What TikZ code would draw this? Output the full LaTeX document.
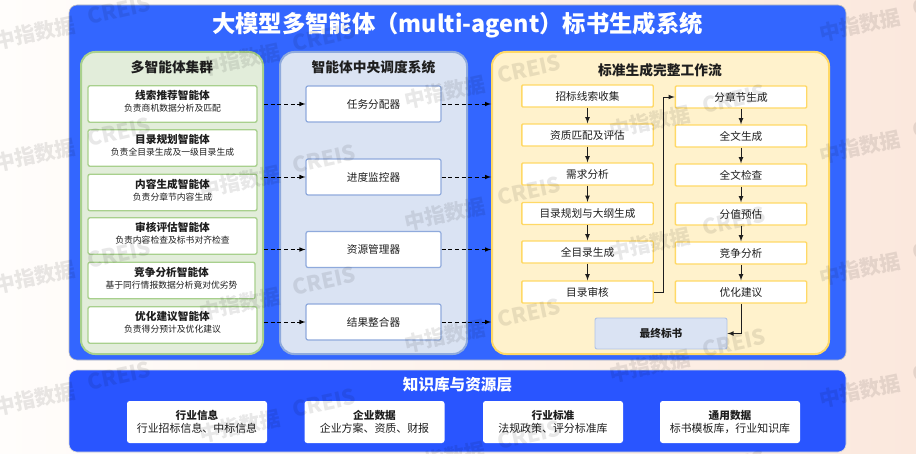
\documentclass[tikz,border=0pt]{standalone}
\usepackage{fontspec}
\setmainfont{Noto Sans CJK SC}
\usetikzlibrary{positioning}
\usetikzlibrary{arrows}
\definecolor{outerblue}{RGB}{51,102,255}
\definecolor{lowerblue}{RGB}{41,85,255}
\definecolor{greenfill}{RGB}{226,237,218}
\definecolor{greenline}{RGB}{168,208,141}
\definecolor{bluefill}{RGB}{218,227,243}
\definecolor{blueline}{RGB}{143,170,220}
\definecolor{yellowfill}{RGB}{255,242,204}
\definecolor{yellowline}{RGB}{255,217,102}
\definecolor{inktext}{RGB}{30,30,30}
\definecolor{pagestart}{RGB}{255,253,251}
\definecolor{pageend}{RGB}{251,232,221}
\newcommand{\boxlabel}[2]{{\fontsize{8}{9}\selectfont\bfseries #1}\\[-3pt]{\fontsize{6.6}{9}\selectfont #2\rule[-4pt]{0pt}{1pt}}}
\newcommand{\datalabel}[2]{{\fontsize{8}{10}\selectfont\bfseries #1}\\[-2.25pt]{\fontsize{8.2}{10}\selectfont #2}}
\tikzset{
	panel/.style={draw, line width=1.5pt, rounded corners=10.5pt, inner sep=0pt},
	agentbox/.style={draw=greenline, fill=white, line width=1pt, rounded corners=1.5pt, minimum width=126.75pt, minimum height=27.4pt, align=center, text=inktext, inner sep=0pt},
	unitbox/.style={draw=blueline, fill=white, line width=.9pt, rounded corners=1.5pt, minimum width=101.25pt, minimum height=27pt, text=inktext, font=\fontsize{8}{10}\selectfont, inner sep=0pt},
	flowbox/.style={draw=yellowline, fill=white, line width=1pt, rounded corners=.8pt, minimum width=98.5pt, minimum height=16.5pt, text=inktext, font=\fontsize{8}{10}\selectfont, inner sep=0pt},
	databox/.style={fill=white, rounded corners=2pt, minimum width=105pt, minimum height=31.5pt, align=center, text=inktext, inner sep=0pt},
	heading/.style={text=inktext, font=\fontsize{10.3}{12}\selectfont\bfseries, inner sep=0pt},
	dasharrow/.style={densely dashed, line width=.55pt, black, -latex},
	flowarrow/.style={line width=.6pt, inktext, -latex},
	wmark/.style={text=black, opacity=.09, rotate=12, inner sep=0pt}
}
\begin{document}
\begin{tikzpicture}[x=0.75pt,y=-0.75pt]
	% Page
	\useasboundingbox (0,0) rectangle (916,453);
	\shade[left color=pagestart, right color=pageend] (0,0) rectangle (916,453);

	% Blue layers
	\node[draw=black!25, fill=outerblue, rounded corners=6pt, minimum width=582.75pt, minimum height=266.25pt, inner sep=0pt, line width=.5pt] (upper) at (457.5,182.5) {};
	\node[draw=black!15, fill=lowerblue, rounded corners=6pt, minimum width=582.75pt, minimum height=61.5pt, inner sep=0pt, line width=.5pt] (lower) at (457.5,411) {};
	\node[text=white, font=\fontsize{17.5}{20}\selectfont\bfseries, inner sep=0pt] (title) at (457.5,25) {大模型多智能体（multi-agent）标书生成系统};
	\node[text=white, font=\fontsize{11.7}{14}\selectfont\bfseries, inner sep=0pt] (lowertitle) at (457.5,385) {知识库与资源层};

	% Three panels
	\node[panel, draw=greenline, fill=greenfill, minimum width=136.5pt, minimum height=226.5pt] (agents) at (172,203) {};
	\node[panel, draw=blueline, fill=bluefill, minimum width=140.25pt, minimum height=226.5pt] (central) at (373.5,203) {};
	\node[panel, draw=yellowline, fill=yellowfill, minimum width=252.75pt, minimum height=226.5pt] (flow) at (660.5,203) {};
	\node[heading] (agentstitle) at (172,67) {多智能体集群};
	\node[heading] (centraltitle) at (373.5,67) {智能体中央调度系统};
	\node[heading] (flowtitle) at (660,70) {标准生成完整工作流};

	% Agents
	\node[agentbox] (clue) at (172.5,104) {\boxlabel{线索推荐智能体}{负责商机数据分析及匹配}};
	\node[agentbox] (outline) at (172.5,148) {\boxlabel{目录规划智能体}{负责全目录生成及一级目录生成}};
	\node[agentbox] (content) at (172.5,192.5) {\boxlabel{内容生成智能体}{负责分章节内容生成}};
	\node[agentbox] (review) at (172.5,236) {\boxlabel{审核评估智能体}{负责内容检查及标书对齐检查}};
	\node[agentbox, minimum width=125.25pt] (rival) at (171.5,280.5) {\boxlabel{竞争分析智能体}{基于同行情报数据分析竟对优劣势}};
	\node[agentbox] (tuning) at (172.5,325) {\boxlabel{优化建议智能体}{负责得分预计及优化建议}};

	% Scheduler units
	\node[unitbox] (assign) at (373.5,104) {任务分配器};
	\node[unitbox] (monitor) at (373.5,177) {进度监控器};
	\node[unitbox] (resource) at (373.5,249.5) {资源管理器};
	\node[unitbox] (merge) at (373.5,322) {结果整合器};

	% Dashed links
	\draw[dasharrow] (agents.east |- assign.west) -- (assign.west);
	\draw[dasharrow] (agents.east |- monitor.west) -- (monitor.west);
	\draw[dasharrow] (agents.east |- resource.west) -- (resource.west);
	\draw[dasharrow] (agents.east |- merge.west) -- (merge.west);
	\draw[dasharrow] (assign.east) -- (assign.east -| flow.west);
	\draw[dasharrow] (monitor.east) -- (monitor.east -| flow.west);
	\draw[dasharrow] (resource.east) -- (resource.east -| flow.west);
	\draw[dasharrow] (merge.east) -- (merge.east -| flow.west);

	% Workflow, left column
	\node[flowbox] (bidclue) at (587.5,96) {招标线索收集};
	\node[flowbox] (qualify) at (587.5,135) {资质匹配及评估};
	\node[flowbox] (demand) at (587.5,174) {需求分析};
	\node[flowbox] (plan) at (587.5,213.5) {目录规划与大纲生成};
	\node[flowbox] (fulltoc) at (587.5,252) {全目录生成};
	\node[flowbox] (tocaudit) at (587.5,292) {目录审核};

	% Workflow, right column
	\node[flowbox] (chapter) at (741,97) {分章节生成};
	\node[flowbox] (fulltext) at (741,136) {全文生成};
	\node[flowbox] (textcheck) at (741,175) {全文检查};
	\node[flowbox] (score) at (741,214) {分值预估};
	\node[flowbox] (compete) at (741,253) {竞争分析};
	\node[flowbox] (advice) at (741,292) {优化建议};
	\node[draw=blueline!70, fill=bluefill, line width=.7pt, rounded corners=1.5pt, minimum width=99pt, minimum height=23.25pt, text=inktext, font=\fontsize{8}{10}\selectfont\bfseries, inner sep=0pt] (final) at (661,333.5) {最终标书};

	% Workflow arrows
	\draw[flowarrow] (bidclue) -- (qualify);
	\draw[flowarrow] (qualify) -- (demand);
	\draw[flowarrow] (demand) -- (plan);
	\draw[flowarrow] (plan) -- (fulltoc);
	\draw[flowarrow] (fulltoc) -- (tocaudit);
	\draw[flowarrow] (chapter) -- (fulltext);
	\draw[flowarrow] (fulltext) -- (textcheck);
	\draw[flowarrow] (textcheck) -- (score);
	\draw[flowarrow] (score) -- (compete);
	\draw[flowarrow] (compete) -- (advice);
	\draw[flowarrow] (tocaudit.east) -- ++(10,0) |- (chapter.west);
	\draw[flowarrow] (advice.south) |- (final.east);

	% Data sources
	\node[databox] (industry) at (197,422) {\datalabel{行业信息}{行业招标信息、中标信息}};
	\node[databox] (company) at (374.5,422) {\datalabel{企业数据}{企业方案、资质、财报}};
	\node[databox] (standard) at (553,422) {\datalabel{行业标准}{法规政策、评分标准库}};
	\node[databox] (general) at (730,422) {\datalabel{通用数据}{标书模板库，行业知识库}};

	% Watermark
	\foreach \wx/\wy in {35/33,240/60,445/92,650/122,860/25}
		\foreach \wr in {0,...,3} {
			\node[wmark, font=\fontsize{15.5}{18}\selectfont\bfseries] (mark\wx-\wr) at ({\wx},{\wy+122*\wr}) {中指数据};
			\node[wmark, font=\fontsize{16}{20}\selectfont\bfseries] (creis\wx-\wr) at ({\wx+84},{\wy+122*\wr-23}) {CREIS};
		}
\end{tikzpicture}
\end{document}
